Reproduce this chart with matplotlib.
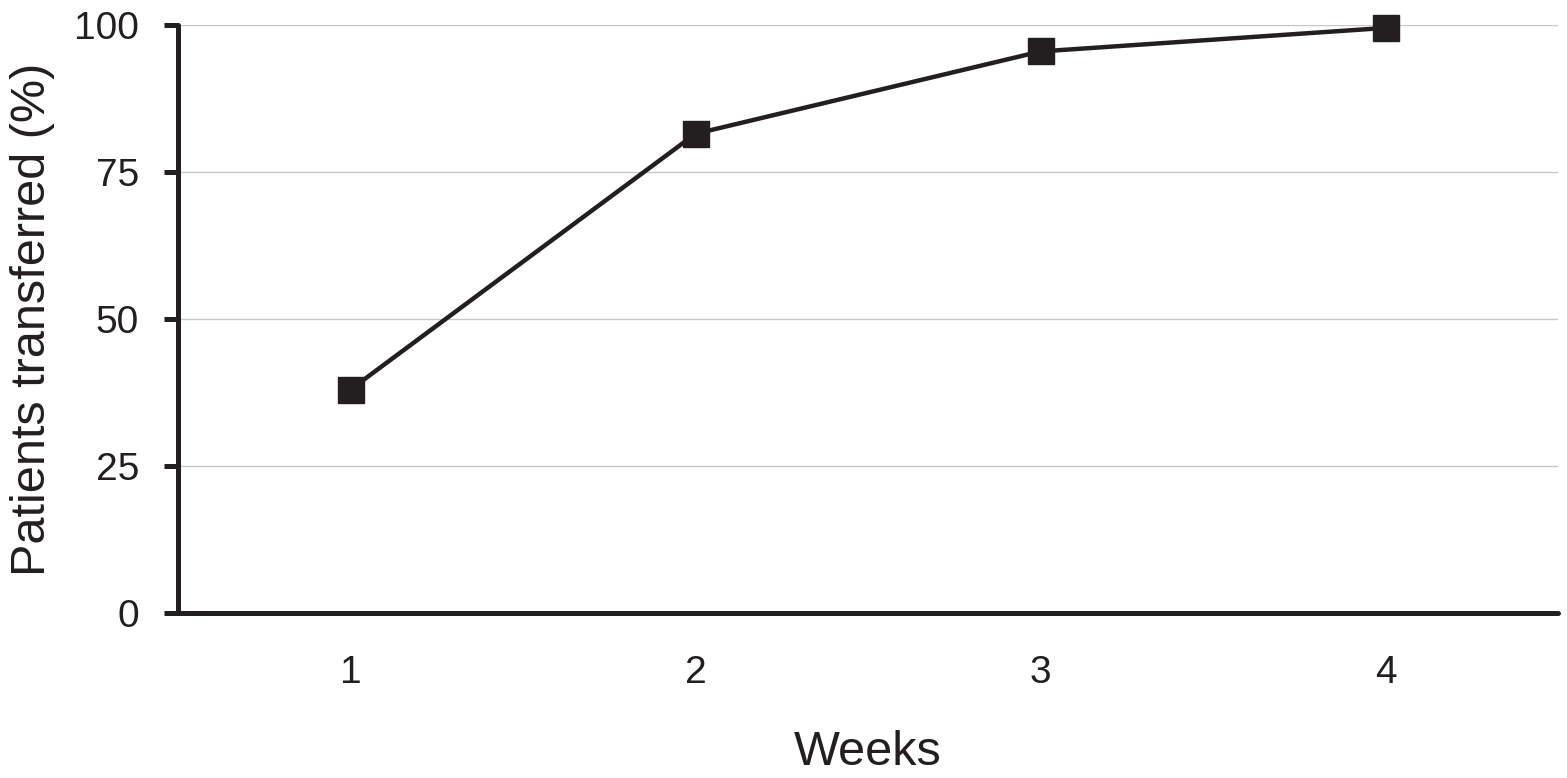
import matplotlib
matplotlib.use("Agg")
import matplotlib.pyplot as plt

weeks = [1, 2, 3, 4]
transferred = [38, 81.5, 95.5, 99.5]   # cumulative % of patients
y_ticks = [0, 25, 50, 75, 100]

plt.rcParams['font.family'] = ['Liberation Sans', 'DejaVu Sans']

fig = plt.figure(figsize=(15.67, 7.78), dpi=100)
ax = fig.add_axes([0.1136, 0.2121, 0.8807, 0.7558])

# light grid lines behind everything
for yv in y_ticks[1:]:
    ax.axhline(yv, color="#c8c8c8", lw=1.0, zorder=0)

ax.plot(weeks, transferred, color="#231f20", lw=3.2,
        marker="s", markersize=19, markerfacecolor="#231f20",
        markeredgecolor="#231f20", clip_on=False, zorder=3)

ax.set_xlim(0.5, 4.5)
ax.set_ylim(0, 100)
ax.set_xticks(weeks)
ax.set_yticks(y_ticks)

for side in ("top", "right"):
    ax.spines[side].set_visible(False)
for side in ("left", "bottom"):
    ax.spines[side].set_linewidth(3.6)
    ax.spines[side].set_color("#231f20")
    ax.spines[side].set_capstyle("round")

ax.tick_params(axis="y", length=10, width=3.6, color="#231f20",
               pad=18, labelsize=28, labelcolor="#231f20")
ax.tick_params(axis="x", length=0, pad=30, labelsize=28, labelcolor="#231f20")

ax.set_xlabel("Weeks", fontsize=35, color="#231f20", labelpad=28)
ax.set_ylabel("Patients transferred (%)", fontsize=35, color="#231f20", labelpad=14)

fig.savefig("out.png", dpi=100)
